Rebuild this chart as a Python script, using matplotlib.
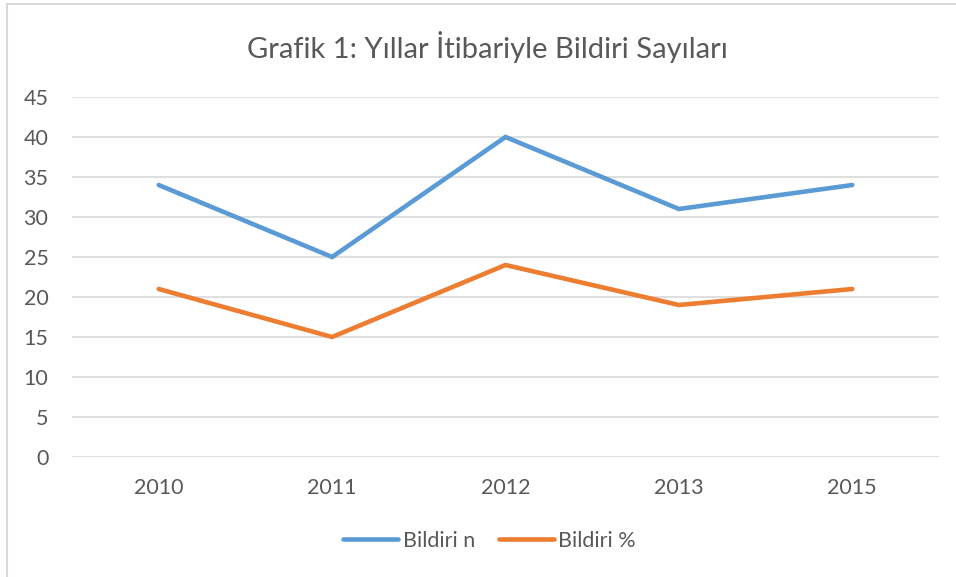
import matplotlib
matplotlib.use("Agg")
import matplotlib.pyplot as plt
from matplotlib.patches import Rectangle

years = ["2010", "2011", "2012", "2013", "2015"]
bildiri_n = [34, 25, 40, 31, 34]
bildiri_pct = [21, 15, 24, 19, 21]
y_ticks = [0, 5, 10, 15, 20, 25, 30, 35, 40, 45]

TEXT = "#595959"
GRID = "#d9d9d9"

plt.rcParams["font.family"] = ["Lato", "DejaVu Sans"]

fig = plt.figure(figsize=(9.56, 5.77), dpi=100)
fig.patches.append(
    Rectangle((7 / 956, -0.05), 1.0, 1 - 4 / 577 + 0.05, transform=fig.transFigure,
              fill=False, edgecolor=GRID, linewidth=1.5)
)

ax = fig.add_axes([72 / 956, 120 / 577, 867 / 956, 360 / 577])
x = list(range(len(years)))
ax.plot(x, bildiri_n, color="#5b9bd5", linewidth=3.3, solid_capstyle="round",
        solid_joinstyle="miter", label="Bildiri n", zorder=3)
ax.plot(x, bildiri_pct, color="#ed7d31", linewidth=3.3, solid_capstyle="round",
        solid_joinstyle="miter", label="Bildiri %", zorder=3)

ax.set_xlim(-0.5, len(years) - 0.5)
ax.set_ylim(0, 45)
ax.set_yticks(y_ticks)
ax.set_xticks(x)
ax.set_xticklabels(years)
ax.grid(axis="y", color=GRID, linewidth=1.2)
ax.set_axisbelow(True)
for side in ax.spines.values():
    side.set_visible(False)
ax.tick_params(length=0, labelsize=15.5, colors=TEXT)
ax.tick_params(axis="y", pad=17)
ax.tick_params(axis="x", pad=15)

fig.text(0.51, 1 - 47 / 577, "Grafik 1: Yıllar İtibariyle Bildiri Sayıları",
         ha="center", va="center", fontsize=21, color=TEXT)

fig.legend(loc="center", bbox_to_anchor=(0.512, 1 - 541 / 577), ncol=2, frameon=False,
           fontsize=15.5, labelcolor=TEXT, handlelength=2.55, handletextpad=0.2,
           columnspacing=1.1)

fig.savefig("out.png", dpi=100)
